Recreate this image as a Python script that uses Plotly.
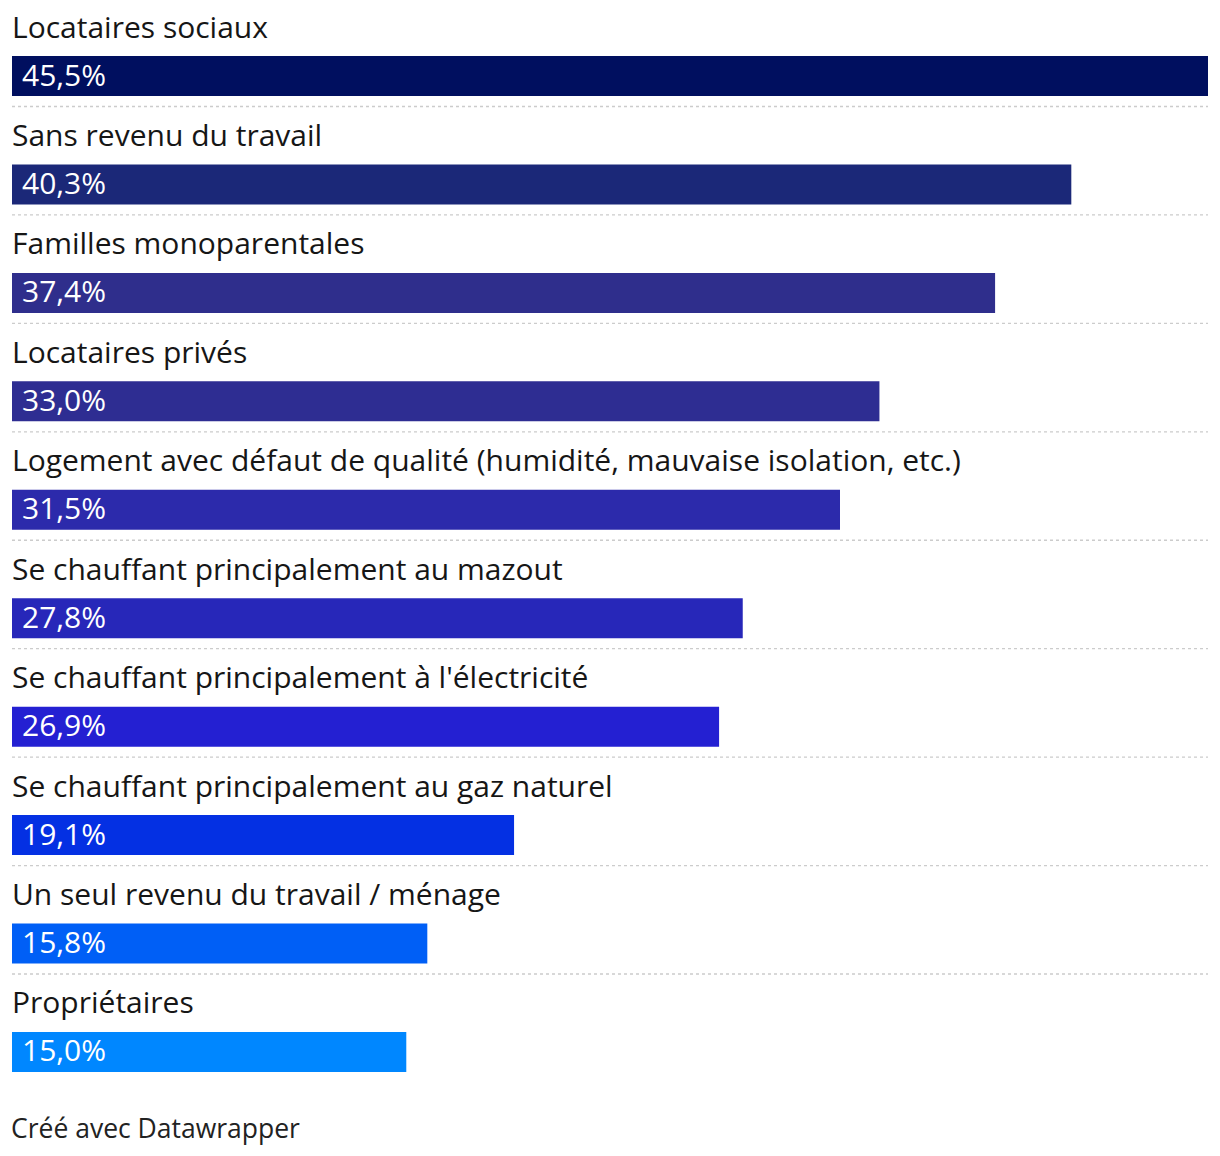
import plotly.graph_objects as go

categories = [
    "Locataires sociaux",
    "Sans revenu du travail",
    "Familles monoparentales",
    "Locataires privés",
    "Logement avec défaut de qualité (humidité, mauvaise isolation, etc.)",
    "Se chauffant principalement au mazout",
    "Se chauffant principalement à l'électricité",
    "Se chauffant principalement au gaz naturel",
    "Un seul revenu du travail / ménage",
    "Propriétaires",
]
values = [45.5, 40.3, 37.4, 33.0, 31.5, 27.8, 26.9, 19.1, 15.8, 15.0]
bar_colors = [
    "#000f5f", "#1b2878", "#2f2e8c", "#2e2d92", "#2c2aab",
    "#2727b9", "#2420d2", "#0430e3", "#005ff6", "#0087ff",
]
footer_text = "Créé avec Datawrapper"

FONT = "Open Sans"
W, H = 1220, 1156
pitch = 108.44          # px per category row
first_center = 76       # px from top to first bar centre
plot_bottom = 1100

value_texts = [f"{v:.1f}".replace(".", ",") + "%" for v in values]

fig = go.Figure()
fig.add_trace(go.Bar(
    x=values,
    y=categories,
    orientation="h",
    marker=dict(color=bar_colors, line=dict(width=0)),
    width=40 / pitch,
    hoverinfo="skip",
))

annotations = []
for cat, txt in zip(categories, value_texts):
    annotations.append(dict(
        x=0, y=cat, xref="x", yref="y", text=cat, showarrow=False,
        xanchor="left", yanchor="middle", yshift=50, xshift=-2,
        font=dict(family=FONT, size=30, color="#161616"),
    ))
    annotations.append(dict(
        x=0, y=cat, xref="x", yref="y", text=txt, showarrow=False,
        xanchor="left", yanchor="middle", xshift=8, yshift=2,
        font=dict(family=FONT, size=30, color="#ffffff"),
    ))
annotations.append(dict(
    x=0, y=0, xref="paper", yref="paper", text=footer_text, showarrow=False,
    xanchor="left", yanchor="middle", xshift=-3, yshift=-28,
    font=dict(family=FONT, size=26.5, color="#222222"),
))

shapes = []
for i in range(len(categories) - 1):
    yy = i + 30.5 / pitch
    shapes.append(dict(
        type="line", xref="paper", yref="y", x0=0, x1=1, y0=yy, y1=yy,
        line=dict(color="#cccccc", width=1.3, dash="dot"),
        layer="below",
    ))

top_val = -first_center / pitch
bottom_val = (plot_bottom - first_center) / pitch

fig.update_layout(
    width=W, height=H,
    margin=dict(l=12, r=12, t=0, b=H - plot_bottom, pad=0),
    paper_bgcolor="#ffffff", plot_bgcolor="#ffffff",
    showlegend=False,
    xaxis=dict(range=[0, max(values)], visible=False, fixedrange=True),
    yaxis=dict(
        type="category", range=[bottom_val, top_val],
        visible=False, fixedrange=True,
    ),
    annotations=annotations,
    shapes=shapes,
    font=dict(family=FONT),
)

fig.write_html(
    "out.html",
    config={"displayModeBar": False},
    post_script="document.body.style.margin='0';document.body.style.overflow='hidden';",
)
